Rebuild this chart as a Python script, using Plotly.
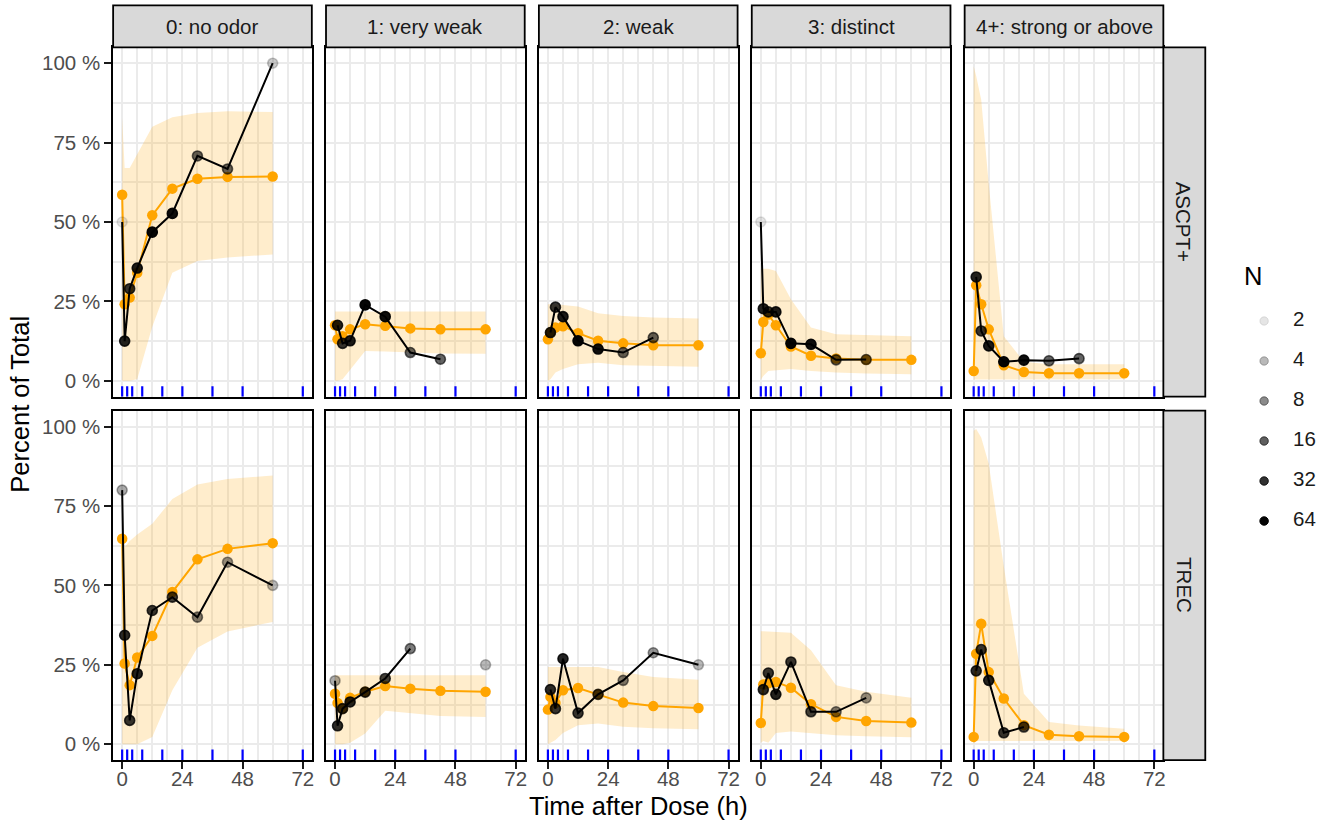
import plotly.graph_objects as go
import math

# ---------------- data ----------------
times = [0, 1, 3, 6, 12, 20, 30, 42, 60]
rug_times = [0, 2, 4, 8, 16, 24, 36, 48, 72]
categories = ["0: no odor", "1: very weak", "2: weak", "3: distinct", "4+: strong or above"]
groups = ["ASCPT+", "TREC"]
n_levels = [2, 4, 8, 16, 32, 64]
x_ticks = [0, 24, 48, 72]
y_ticks = [0, 25, 50, 75, 100]
y_tick_text = ["0 %", "25 %", "50 %", "75 %", "100 %"]

# observed percent (black) per group, category
obs_ascpt_c0 = [50.0, 12.5, 29.0, 35.5, 46.8, 52.7, 70.8, 66.7, 100.0]
obs_ascpt_c1 = [None, 17.5, 11.8, 12.6, 23.9, 20.2, 8.9, 6.8, None]
obs_ascpt_c2 = [None, 15.2, 23.2, 20.2, 12.6, 10.0, 8.9, 13.6, None]
obs_ascpt_c3 = [50.0, 22.7, 21.7, 21.7, 11.8, 11.5, 6.6, 6.7, None]
obs_ascpt_c4 = [None, 32.7, 15.7, 11.0, 6.0, 6.5, 6.3, 7.0, None]

obs_trec_c0 = [80.0, 34.3, 7.5, 22.2, 42.1, 46.3, 40.0, 57.3, 50.0]
obs_trec_c1 = [20.0, 5.8, 11.2, 13.3, 16.4, 20.7, 30.1, None, 25.0]
obs_trec_c2 = [None, 17.2, 11.2, 26.9, 9.8, 15.7, 20.1, 28.8, 25.0]
obs_trec_c3 = [None, 17.2, 22.4, 15.7, 25.9, 10.2, 10.2, 14.6, None]
obs_trec_c4 = [None, 23.1, 29.8, 20.1, 3.6, 5.4, None, None, None]

# N per time bin (alpha)
n_ascpt = [2, 40, 30, 45, 64, 55, 15, 15, 3]
n_trec = [5, 35, 30, 40, 30, 25, 10, 7, 4]

# predicted median (orange)
pred_ascpt_c0 = [58.6, 24.1, 26.2, 34.0, 52.1, 60.5, 63.6, 64.2, 64.3]
pred_ascpt_c1 = [17.5, 13.1, 14.0, 16.2, 17.8, 17.3, 16.5, 16.2, 16.2]
pred_ascpt_c2 = [13.1, 15.2, 16.8, 17.2, 15.0, 12.6, 11.8, 11.2, 11.2]
pred_ascpt_c3 = [8.7, 18.5, 20.9, 17.5, 10.8, 7.9, 7.0, 6.6, 6.6]
pred_ascpt_c4 = [3.1, 30.1, 24.1, 16.2, 4.9, 2.8, 2.4, 2.4, 2.4]

pred_trec_c0 = [64.7, 25.4, 18.6, 27.3, 34.1, 47.9, 58.2, 61.5, 63.3]
pred_trec_c1 = [15.9, 13.0, 11.2, 14.6, 16.5, 18.3, 17.5, 16.8, 16.5]
pred_trec_c2 = [10.9, 14.9, 13.0, 17.0, 17.7, 15.7, 13.1, 12.0, 11.4]
pred_trec_c3 = [6.7, 18.8, 19.2, 19.6, 17.8, 12.6, 8.6, 7.3, 6.8]
pred_trec_c4 = [2.3, 28.5, 37.9, 22.7, 14.4, 6.0, 3.0, 2.5, 2.3]

# prediction interval lower / upper
lo_ascpt_c0 = [0, 0, 0, 0.5, 17, 34, 37.7, 38.8, 39.8]
hi_ascpt_c0 = [83, 67, 67, 71, 80, 83, 84.3, 84.9, 84.6]
lo_ascpt_c1 = [0, 0, 0.5, 3.5, 9.4, 9.2, 8.9, 8.6, 8.5]
hi_ascpt_c1 = [21.8, 21.8, 21.8, 21.8, 21.8, 21.8, 21.8, 21.8, 21.8]
lo_ascpt_c2 = [0, 0.5, 2.6, 3.7, 5.2, 5.7, 4.9, 4.7, 4.4]
hi_ascpt_c2 = [24.1, 24.1, 24.1, 24.0, 23.4, 21.3, 20.4, 19.9, 19.6]
lo_ascpt_c3 = [0.3, 1.5, 3.1, 3.3, 3.7, 3.1, 2.6, 2.3, 2.1]
hi_ascpt_c3 = [35.3, 35.3, 35.3, 34.6, 25.7, 16.8, 14.7, 14.3, 14.0]
lo_ascpt_c4 = [0.4, 0.4, 0.4, 0.5, 0.5, 0.5, 0.5, 0.5, 0.5]
hi_ascpt_c4 = [99, 96, 88.5, 62, 14, 6, 5.2, 5.2, 5.2]

lo_trec_c0 = [0, 0, 0, 0, 2.3, 17, 30.4, 35.5, 38.5]
hi_trec_c0 = [70, 62, 64, 66, 69.4, 77.2, 81.8, 83.5, 84.6]
lo_trec_c1 = [0, 0, 0, 0.5, 3.4, 10.5, 9.7, 8.9, 8.6]
hi_trec_c1 = [21.7, 21.7, 21.7, 21.7, 21.7, 21.7, 21.7, 21.7, 21.7]
lo_trec_c2 = [0, 0.5, 1.3, 3.5, 6.0, 6.5, 5.5, 5.0, 4.7]
hi_trec_c2 = [24.3, 24.3, 24.3, 24.3, 24.3, 24.3, 22.7, 21.2, 20.3]
lo_trec_c3 = [0.5, 1.0, 0.5, 3.5, 4.0, 3.5, 2.8, 2.5, 2.2]
hi_trec_c3 = [35.6, 35.6, 35.6, 35.5, 35.1, 29.6, 18.6, 16.5, 14.6]
lo_trec_c4 = [0, 1, 1, 1, 1, 1, 1, 1, 1]
hi_trec_c4 = [98.7, 99.2, 96.6, 88.3, 56, 15.9, 7, 5.9, 4.9]

obs = {
    "ASCPT+": [obs_ascpt_c0, obs_ascpt_c1, obs_ascpt_c2, obs_ascpt_c3, obs_ascpt_c4],
    "TREC": [obs_trec_c0, obs_trec_c1, obs_trec_c2, obs_trec_c3, obs_trec_c4],
}
pred = {
    "ASCPT+": [pred_ascpt_c0, pred_ascpt_c1, pred_ascpt_c2, pred_ascpt_c3, pred_ascpt_c4],
    "TREC": [pred_trec_c0, pred_trec_c1, pred_trec_c2, pred_trec_c3, pred_trec_c4],
}
lo = {
    "ASCPT+": [lo_ascpt_c0, lo_ascpt_c1, lo_ascpt_c2, lo_ascpt_c3, lo_ascpt_c4],
    "TREC": [lo_trec_c0, lo_trec_c1, lo_trec_c2, lo_trec_c3, lo_trec_c4],
}
hi = {
    "ASCPT+": [hi_ascpt_c0, hi_ascpt_c1, hi_ascpt_c2, hi_ascpt_c3, hi_ascpt_c4],
    "TREC": [hi_trec_c0, hi_trec_c1, hi_trec_c2, hi_trec_c3, hi_trec_c4],
}
nvals = {"ASCPT+": n_ascpt, "TREC": n_trec}

# ---------------- layout geometry ----------------
W, H = 1334, 824
FONT = "Liberation Sans, Arial, Helvetica, sans-serif"
ORANGE = "#FFA500"
RIBBON = "rgba(255,165,0,0.2)"
GRID = "#EBEBEB"
TICK_FS = 20.5
TITLE_FS = 25.5
col_left0, col_step, col_w = 113.3, 213.2, 199.0
row_tops = [47.3, 410.7]
row_h = 349.4
strip_top = 5.3
strip_w = 42.0
x_range = [-3.6, 75.6]
y_range = [-5, 105]


def fx(px):
    return px / W


def fy(py):
    return 1 - py / H


def alpha_of(n):
    a = 0.1 + 0.9 * (math.log2(n) - 1) / 5.1
    return max(0.1, min(1.0, a))


fig = go.Figure()
layout = dict(
    width=W, height=H,
    margin=dict(l=0, r=0, t=0, b=0),
    paper_bgcolor="white", plot_bgcolor="white",
    showlegend=False,
    font=dict(family=FONT, size=TICK_FS, color="#1A1A1A"),
)
shapes = []
annotations = []

k = 0
for r, g in enumerate(groups):
    for c, cat in enumerate(categories):
        k += 1
        xa = "x" if k == 1 else f"x{k}"
        ya = "y" if k == 1 else f"y{k}"
        xname = "xaxis" if k == 1 else f"xaxis{k}"
        yname = "yaxis" if k == 1 else f"yaxis{k}"
        left = col_left0 + c * col_step
        right = left + col_w
        top = row_tops[r]
        bottom = top + row_h

        layout[xname] = dict(
            domain=[fx(left), fx(right)], anchor=ya, range=x_range,
            tickmode="array", tickvals=x_ticks,
            showticklabels=(r == 1),
            ticks="outside" if r == 1 else "", ticklen=7, tickwidth=2, tickcolor="#1A1A1A",
            ticklabelstandoff=-8,
            tickfont=dict(size=TICK_FS, color="#4D4D4D", family=FONT),
            showgrid=True, gridcolor=GRID, gridwidth=1.6,
            minor=dict(dtick=6, tick0=0, showgrid=True, gridcolor=GRID, gridwidth=1.6, ticks=""),
            zeroline=False, showline=True, mirror=True, linecolor="black", linewidth=1.8,
            fixedrange=True,
        )
        layout[yname] = dict(
            domain=[fy(bottom), fy(top)], anchor=xa, range=y_range,
            tickmode="array", tickvals=y_ticks, ticktext=y_tick_text,
            showticklabels=(c == 0),
            ticks="outside" if c == 0 else "", ticklen=7, tickwidth=2, tickcolor="#1A1A1A",
            tickfont=dict(size=TICK_FS, color="#4D4D4D", family=FONT),
            showgrid=True, gridcolor=GRID, gridwidth=1.6,
            minor=dict(dtick=12.5, tick0=0, showgrid=True, gridcolor=GRID, gridwidth=1.6, ticks=""),
            zeroline=False, showline=True, mirror=True, linecolor="black", linewidth=1.8,
            fixedrange=True,
        )

        # ribbon
        lo_s = lo[g][c]
        hi_s = hi[g][c]
        fig.add_trace(go.Scatter(
            x=times + times[::-1], y=lo_s + hi_s[::-1],
            fill="toself", fillcolor=RIBBON, mode="lines", line=dict(width=0),
            hoverinfo="skip", xaxis=xa, yaxis=ya,
        ))
        # rug
        rx, ry = [], []
        for t in rug_times:
            rx += [t, t, None]
            ry += [y_range[0], y_range[0] + 0.03 * (y_range[1] - y_range[0]), None]
        fig.add_trace(go.Scatter(
            x=rx, y=ry, mode="lines", line=dict(color="blue", width=2.2),
            hoverinfo="skip", xaxis=xa, yaxis=ya,
        ))
        # predicted
        fig.add_trace(go.Scatter(
            x=times, y=pred[g][c], mode="lines+markers",
            line=dict(color=ORANGE, width=2),
            marker=dict(color=ORANGE, size=10.5),
            xaxis=xa, yaxis=ya,
        ))
        # observed line
        fig.add_trace(go.Scatter(
            x=times, y=obs[g][c], mode="lines", connectgaps=False,
            line=dict(color="black", width=2),
            xaxis=xa, yaxis=ya,
        ))
        # observed points with alpha by N
        px_, py_, cols = [], [], []
        for t, v, n in zip(times, obs[g][c], nvals[g]):
            if v is None:
                continue
            px_.append(t)
            py_.append(v)
            cols.append(f"rgba(0,0,0,{alpha_of(n):.3f})")
        fig.add_trace(go.Scatter(
            x=px_, y=py_, mode="markers",
            marker=dict(color=cols, size=10, line=dict(color=cols, width=1.6)),
            xaxis=xa, yaxis=ya,
        ))

        # top strips
        if r == 0:
            shapes.append(dict(type="rect", xref="paper", yref="paper",
                               x0=fx(left), x1=fx(right), y0=fy(top), y1=fy(strip_top),
                               fillcolor="#D9D9D9", line=dict(color="black", width=1.8), layer="above"))
            annotations.append(dict(text=cat, xref="paper", yref="paper",
                                    x=fx((left + right) / 2), y=fy((strip_top + top) / 2),
                                    showarrow=False, xanchor="center", yanchor="middle",
                                    font=dict(size=TICK_FS, color="#1A1A1A", family=FONT)))
        # right strips
        if c == len(categories) - 1:
            shapes.append(dict(type="rect", xref="paper", yref="paper",
                               x0=fx(right), x1=fx(right + strip_w), y0=fy(bottom), y1=fy(top),
                               fillcolor="#D9D9D9", line=dict(color="black", width=1.8), layer="above"))
            annotations.append(dict(text=g, xref="paper", yref="paper",
                                    x=fx(right + strip_w / 2), y=fy((top + bottom) / 2),
                                    showarrow=False, textangle=90, xanchor="center", yanchor="middle",
                                    font=dict(size=TICK_FS, color="#1A1A1A", family=FONT)))

# axis titles
annotations.append(dict(text="Time after Dose (h)", xref="paper", yref="paper",
                        x=fx((col_left0 + col_left0 + 4 * col_step + col_w) / 2), y=fy(806),
                        showarrow=False, xanchor="center", yanchor="middle",
                        font=dict(size=TITLE_FS, color="#000000", family=FONT)))
annotations.append(dict(text="Percent of Total", xref="paper", yref="paper",
                        x=fx(20), y=fy((row_tops[0] + row_tops[1] + row_h) / 2),
                        showarrow=False, textangle=-90, xanchor="center", yanchor="middle",
                        font=dict(size=TITLE_FS, color="#000000", family=FONT)))

# legend (manual) on hidden axis
k += 1
lx, ly = f"x{k}", f"y{k}"
layout[f"xaxis{k}"] = dict(domain=[fx(1240), fx(1330)], range=[0, 90], visible=False, fixedrange=True, anchor=ly)
layout[f"yaxis{k}"] = dict(domain=[fy(541), fy(301)], range=[len(n_levels) - 0.5, -0.5],
                           visible=False, fixedrange=True, anchor=lx)
leg_cols = [f"rgba(0,0,0,{alpha_of(n):.3f})" for n in n_levels]
fig.add_trace(go.Scatter(
    x=[26] * len(n_levels), y=list(range(len(n_levels))), mode="markers",
    marker=dict(color=leg_cols, size=8.5, line=dict(color=leg_cols, width=1)),
    xaxis=lx, yaxis=ly, hoverinfo="skip",
))
fig.add_trace(go.Scatter(
    x=[55] * len(n_levels), y=list(range(len(n_levels))), mode="text",
    text=[str(n) for n in n_levels], textposition="middle right",
    textfont=dict(size=TICK_FS, color="#1A1A1A", family=FONT),
    xaxis=lx, yaxis=ly, hoverinfo="skip",
))
annotations.append(dict(text="N", xref="paper", yref="paper", x=fx(1244), y=fy(276),
                        showarrow=False, xanchor="left", yanchor="middle",
                        font=dict(size=TITLE_FS, color="#000000", family=FONT)))

layout["shapes"] = shapes
layout["annotations"] = annotations
fig.update_layout(**layout)
fig.write_html("out.html")
